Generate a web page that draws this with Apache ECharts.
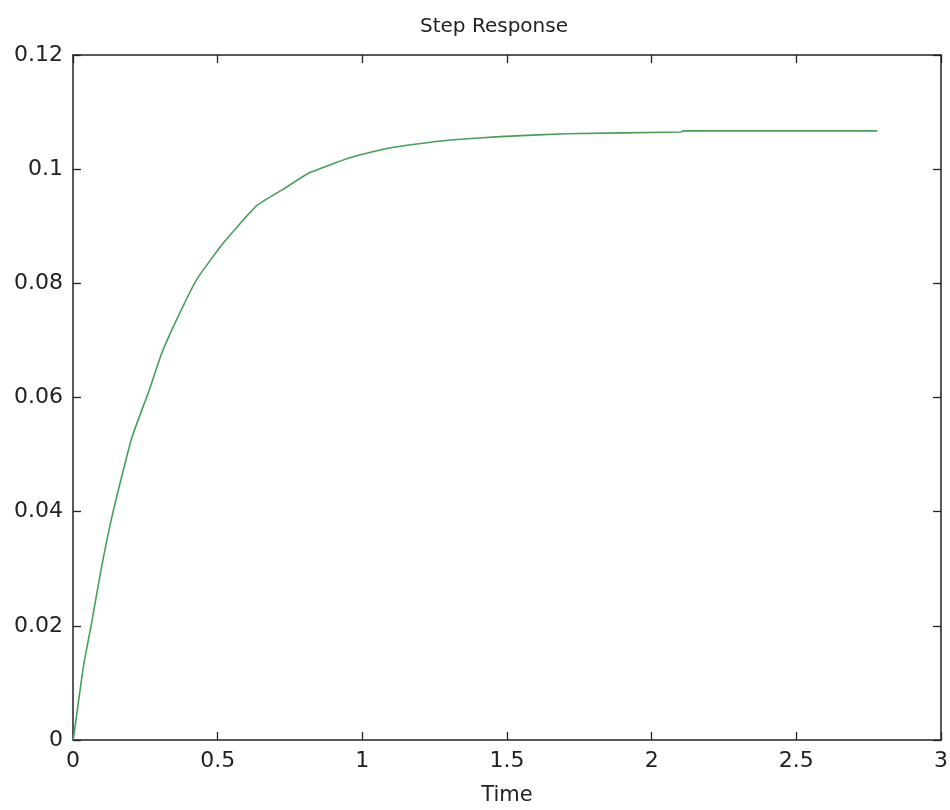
<!DOCTYPE html>
<html>
<head>
<meta charset="utf-8">
<title>Step Response</title>
<script src="https://cdn.jsdelivr.net/npm/echarts@6/dist/echarts.min.js"></script>
<style>
  html, body { margin: 0; padding: 0; background: #fff; }
  #chart { width: 950px; height: 810px; }
</style>
</head>
<body>
<div id="chart"></div>
<script>
// values
var time_data = [0, 0.007, 0.036, 0.065, 0.099, 0.139, 0.203, 0.26, 0.307, 0.37, 0.428, 0.52, 0.635, 0.727, 0.819,
  0.957, 1.073, 1.188, 1.303, 1.476, 1.7, 2.1, 2.11, 2.78]
var response_data = [0, 0.0023, 0.0129, 0.0207, 0.0304, 0.0401, 0.0529, 0.0608, 0.0678, 0.0749, 0.0807, 0.0871, 0.0936, 0.0965, 0.0994,
  0.102, 0.1035, 0.1044, 0.1051, 0.1057, 0.1062, 0.1065, 0.1067, 0.1067]
var x_ticks = { min: 0, max: 3, interval: 0.5 }
var y_ticks = { min: 0, max: 0.12, interval: 0.02 }

var font = 'DejaVu Sans'
var points = []
for (var i = 0; i < time_data.length; i++) {
  points.push([time_data[i], response_data[i]])
}

var boxLine = { show: true, onZero: false, lineStyle: { color: '#222', width: 1.5 } }
var boxTick = { show: true, inside: true, length: 8, lineStyle: { color: '#222', width: 1.3 } }

var chart = echarts.init(document.getElementById('chart'))
chart.setOption({
  animation: false,
  title: {
    text: 'Step Response',
    left: 489,
    top: 12,
    textAlign: 'center',
    textStyle: { fontFamily: font, fontSize: 20, fontWeight: 'normal', color: '#222' }
  },
  grid: { left: 73, right: 9, top: 55, bottom: 70, outerBoundsMode: 'none' },
  xAxis: [{
    type: 'value',
    position: 'bottom',
    min: x_ticks.min, max: x_ticks.max, interval: x_ticks.interval,
    name: 'Time',
    nameLocation: 'middle',
    nameGap: 45,
    nameTextStyle: { fontFamily: font, fontSize: 21, color: '#222' },
    axisLine: boxLine,
    axisTick: boxTick,
    axisLabel: { fontFamily: font, fontSize: 22, color: '#222', margin: 10 },
    splitLine: { show: false }
  }, {
    type: 'value',
    position: 'top',
    min: x_ticks.min, max: x_ticks.max, interval: x_ticks.interval,
    axisLine: boxLine,
    axisTick: boxTick,
    axisLabel: { show: false },
    splitLine: { show: false }
  }],
  yAxis: [{
    type: 'value',
    position: 'left',
    min: y_ticks.min, max: y_ticks.max, interval: y_ticks.interval,
    axisLine: boxLine,
    axisTick: boxTick,
    axisLabel: { fontFamily: font, fontSize: 22, color: '#222', margin: 10 },
    splitLine: { show: false }
  }, {
    type: 'value',
    position: 'right',
    min: y_ticks.min, max: y_ticks.max, interval: y_ticks.interval,
    axisLine: boxLine,
    axisTick: boxTick,
    axisLabel: { show: false },
    splitLine: { show: false }
  }],
  series: [{
    name: 'Step Response',
    type: 'line',
    data: points,
    showSymbol: false,
    smooth: 0.15,
    lineStyle: { color: '#45a057', width: 1.6 }
  }]
})
</script>
</body>
</html>
